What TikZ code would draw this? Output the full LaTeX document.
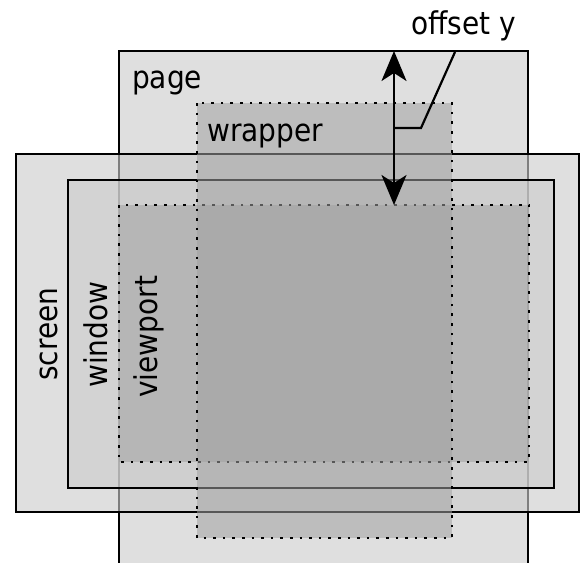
\documentclass[tikz,border=0pt]{standalone}
\usepackage{fontspec}
\setmainfont{DejaVu Sans}
\usetikzlibrary{arrows.meta}
\definecolor{lightfill}{gray}{0.80}
\definecolor{darkfill}{gray}{0.63}
\tikzset{
  layer/.style={fill=lightfill, fill opacity=0.62, draw=black, line width=2.4pt},
  dotlayer/.style={fill=darkfill, fill opacity=0.54, draw=black, line width=2.6pt, dash pattern=on 2.6pt off 7pt},
  lbl/.style={font=\fontsize{28}{28}\selectfont, inner sep=0pt, text opacity=1},
  tall/.style={yscale=1.12, transform shape},
  tipstyle/.style={line width=2.2pt},
}
\begin{document}
\begin{tikzpicture}[x=1pt,y=-1pt]
\useasboundingbox (0,0) rectangle (583,562);
\clip (0,0) rectangle (583,562);
% layers, bottom to top
\draw[layer] (119,51) rectangle (528,620);
\draw[layer] (16,154) rectangle (579,512);
\draw[layer] (68,180) rectangle (554,488);
\draw[dotlayer] (119,205) rectangle (529,462);
\draw[dotlayer] (197,103) rectangle (452,538);
% labels
\node[lbl, tall, anchor=base west] (pagelbl) at (132,88) {page};
\node[lbl, tall, anchor=base west] (wraplbl) at (207,141) {wrapper};
\node[lbl, tall, anchor=base west] (offlbl) at (411,34) {offset y};
\node[lbl, rotate=90, tall, anchor=base west] (scrlbl) at (57,381) {screen};
\node[lbl, rotate=90, tall, anchor=base west] (winlbl) at (107,388) {window};
\node[lbl, rotate=90, tall, anchor=base west] (vplbl) at (157,398) {viewport};
% offset arrow
\coordinate (atop) at (394,51);
\coordinate (abot) at (394,205);
\coordinate (amid) at (394,128);
\coordinate (bend) at (421,128);
\coordinate (lead) at (455,52);
\draw[tipstyle, {Stealth[length=30pt,width=25pt,inset=8pt]}-{Stealth[length=30pt,width=25pt,inset=8pt]}] (atop) -- (abot);
\draw[line width=2.2pt] (amid) -- (bend) -- (lead);
\end{tikzpicture}
\end{document}
